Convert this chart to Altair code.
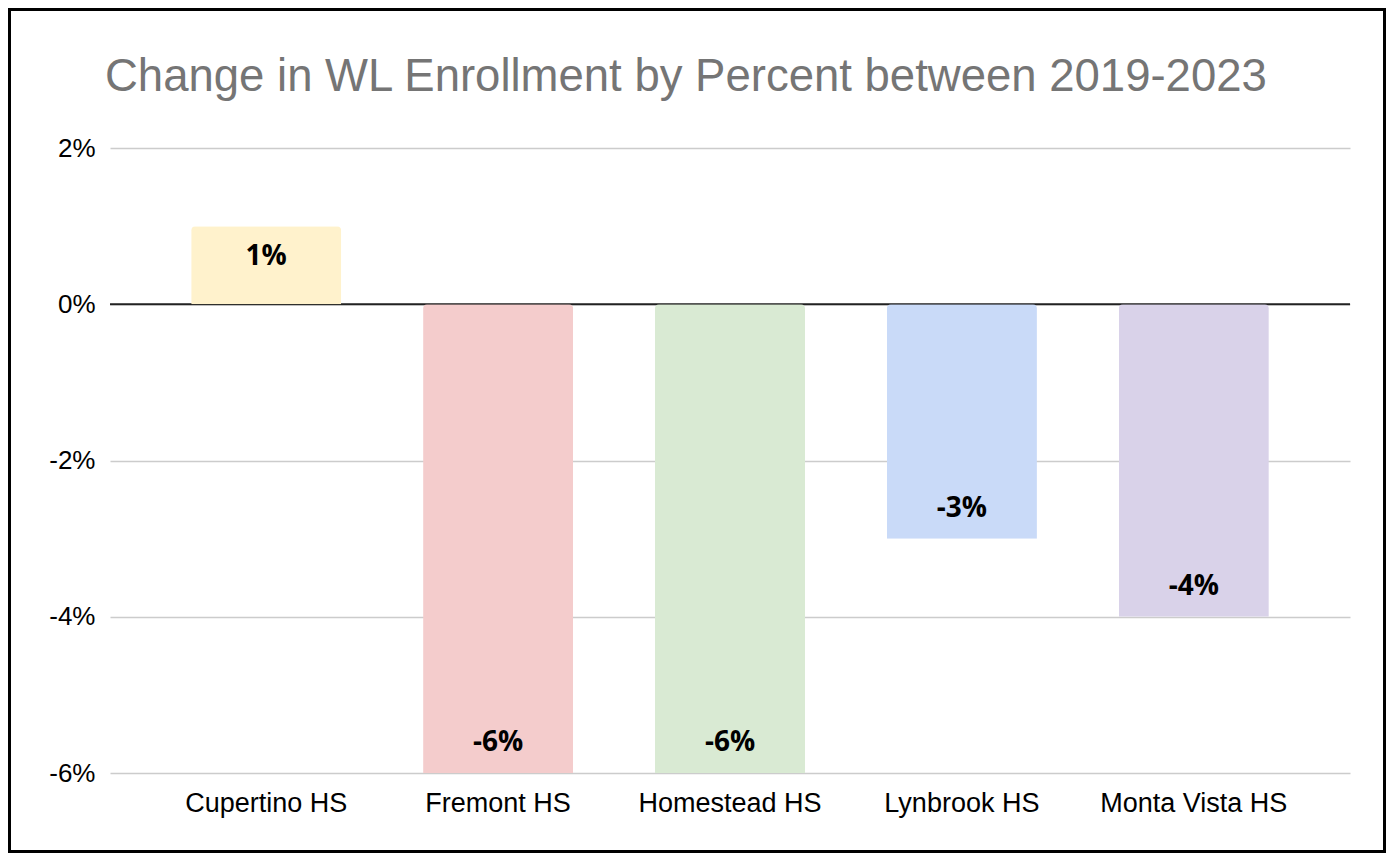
import altair as alt
import pandas as pd

schools = ["Cupertino HS", "Fremont HS", "Homestead HS", "Lynbrook HS", "Monta Vista HS"]
change_pct = [1, -6, -6, -3, -4]
bar_colors = ["#fff2cc", "#f4cccc", "#d9ead3", "#c9daf8", "#d9d2e9"]
y_ticks = [-6, -4, -2, 0, 2]
title_text = "Change in WL Enrollment by Percent between 2019-2023"

df = pd.DataFrame({"school": schools, "change": change_pct})
df["label"] = [f"{v}%" for v in change_pct]
one = pd.DataFrame({"k": [0], "title": [title_text]})

W, H = 1240, 625
PAD_L, PAD_T, PAD_R, PAD_B = 102, 140, 36, 80

x_enc = alt.X(
    "school:N", sort=schools, title=None,
    scale=alt.Scale(paddingInner=0.353, paddingOuter=0.35),
    axis=alt.Axis(labelAngle=0, ticks=False, domain=False, labelFontSize=27,
                  labelColor="#000000", labelFont="Liberation Sans", labelPadding=17,
                  labelLimit=400, grid=False),
)
y_enc = alt.Y(
    "change:Q", title=None,
    scale=alt.Scale(domain=[-6, 2], nice=False),
    axis=alt.Axis(values=y_ticks, labelExpr="datum.value + '%'", ticks=False, domain=False,
                  labelFontSize=26, labelColor="#000000", labelFont="Liberation Sans",
                  labelPadding=15, grid=True, gridColor="#cccccc", gridWidth=1.5),
)

base = alt.Chart(df)

bars = base.mark_bar(cornerRadiusEnd=4).encode(
    x=x_enc, y=y_enc,
    color=alt.Color("school:N", scale=alt.Scale(domain=schools, range=bar_colors), legend=None),
)

zero = alt.Chart(one).mark_rule(color="#222222", strokeWidth=1.8).encode(
    y=alt.datum(0), x=alt.value(0), x2=alt.value(W)
)

lab_style = dict(font="Open Sans", fontSize=28, fontWeight="bold", color="#000000", baseline="middle")
pos_labels = base.transform_filter("datum.change >= 0").mark_text(dy=31, **lab_style).encode(
    x=alt.X("school:N", sort=schools), y="change:Q", text="label:N"
)
neg_labels = base.transform_filter("datum.change < 0").mark_text(dy=-30, **lab_style).encode(
    x=alt.X("school:N", sort=schools), y="change:Q", text="label:N"
)

title = alt.Chart(one).mark_text(
    align="left", baseline="alphabetic", font="Liberation Sans", fontSize=45.5,
    color="#757575",
).encode(x=alt.value(-5), y=alt.value(-57), text="title:N")

frame = alt.Chart(one).mark_rect(fillOpacity=0, stroke="#000000", strokeWidth=3).encode(
    x=alt.value(-PAD_L + 1.5), x2=alt.value(W + PAD_R - 1.5),
    y=alt.value(-PAD_T + 1.5), y2=alt.value(H + PAD_B - 1.5),
)

chart = alt.layer(zero, bars, pos_labels, neg_labels, title, frame).properties(
    width=W, height=H,
    view=alt.ViewBackground(stroke="transparent", strokeWidth=0),
    autosize=alt.AutoSizeParams(type="none"),
    padding={"left": PAD_L, "top": PAD_T, "right": PAD_R, "bottom": PAD_B},
).configure_view(strokeWidth=0, stroke="transparent").configure(background="white")

chart.save("out.html", embed_options={"renderer": "svg", "actions": False})
